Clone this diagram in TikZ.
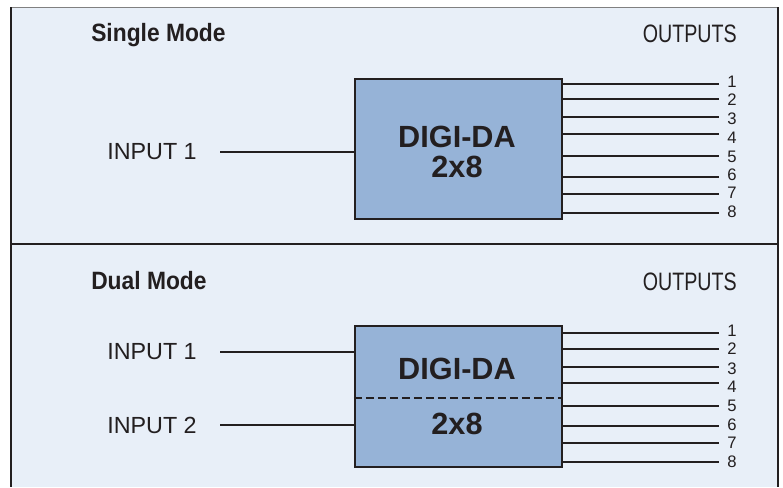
\documentclass[tikz,border=0pt]{standalone}
\usepackage{fontspec}
\setmainfont{Liberation Sans}
\newfontfamily\titlefont[FakeStretch=0.91]{Liberation Sans Bold}
\newfontfamily\condfont[FakeStretch=0.78]{Liberation Sans}
\definecolor{panelbg}{HTML}{E8EFF8}
\definecolor{boxblue}{HTML}{96B3D7}
\definecolor{ink}{HTML}{231F20}

\begin{document}
\begin{tikzpicture}[x=0.75pt,y=-0.75pt,
    wire/.style={draw=ink,line width=1.7pt},
    dabox/.style={draw=ink,fill=boxblue,line width=1.7pt,minimum width=155.25pt,inner sep=0pt},
    datext/.style={inner sep=0pt,text=ink,font=\bfseries\fontsize{23}{26}\selectfont},
    inlabel/.style={inner sep=0pt,anchor=east,text=ink,font=\fontsize{17.5}{20}\selectfont},
    outnum/.style={inner sep=0pt,anchor=west,text=ink,font=\fontsize{12.5}{14}\selectfont},
    modetitle/.style={inner sep=0pt,anchor=base west,text=ink,font=\titlefont\fontsize{18.8}{22}\selectfont},
    outtitle/.style={inner sep=0pt,anchor=base east,text=ink,font=\condfont\fontsize{18.9}{22}\selectfont}]
        \useasboundingbox (0,0) rectangle (783,487);

        % Frame
        \fill[panelbg] (11,7) rectangle (778,487);
        \draw[gray,line width=0.75pt] (11,7) -- (778,7);
        \draw[ink,line width=1.5pt] (11,7) -- (11,487);
        \draw[ink,line width=1pt] (778,7) -- (778,487);
        \draw[ink,line width=1.5pt] (11,244) -- (778,244);

        % Single mode
        \node[modetitle] (stitle) at (91,41.7) {Single Mode};
        \node[outtitle] (sout) at (737,42.3) {OUTPUTS};
        \node[dabox,minimum height=105pt] (sbox) at (458.5,149) {};
        \node[datext] (stop) at (457,137) {DIGI-DA};
        \node[datext] (sbot) at (457,166.5) {2x8};
        \node[inlabel] (sin1) at (197,152) {INPUT 1};
        \draw[wire] ([xshift=17.25pt]sin1.east) -- (sin1 -| sbox.west);
        \foreach \i/\ly/\ny in {1/84/82,2/99/100,3/117/119,4/134/138,5/156/157,6/177/175,7/194/193,8/213/212} {
            \node[outnum] (so\i) at (727,\ny) {\i};
            \draw[wire] (sbox.east |- 0,\ly) -- ([xshift=-6pt]so\i.west |- 0,\ly);
        }

        % Dual mode
        \node[modetitle] (dtitle) at (91,289) {Dual Mode};
        \node[outtitle] (dout) at (737,290) {OUTPUTS};
        \node[dabox,minimum height=105.75pt] (dbox) at (458.5,396.5) {};
        \draw[ink,line width=1.5pt,dash pattern=on 6pt off 3pt] (dbox.west |- 0,398) -- (dbox.east |- 0,398);
        \node[datext] (dtop) at (457,369) {DIGI-DA};
        \node[datext] (dbot) at (457,424) {2x8};
        \node[inlabel] (din1) at (197,352) {INPUT 1};
        \node[inlabel] (din2) at (197,425) {INPUT 2};
        \draw[wire] ([xshift=17.25pt]din1.east) -- (din1 -| dbox.west);
        \draw[wire] ([xshift=17.25pt]din2.east) -- (din2 -| dbox.west);
        \foreach \i/\ly/\ny in {1/333/331,2/349/349,3/367/369,4/383/387,5/406/406,6/426/425,7/443/443,8/462/462} {
            \node[outnum] (do\i) at (727,\ny) {\i};
            \draw[wire] (dbox.east |- 0,\ly) -- ([xshift=-6pt]do\i.west |- 0,\ly);
        }
    \end{tikzpicture}
\end{document}
